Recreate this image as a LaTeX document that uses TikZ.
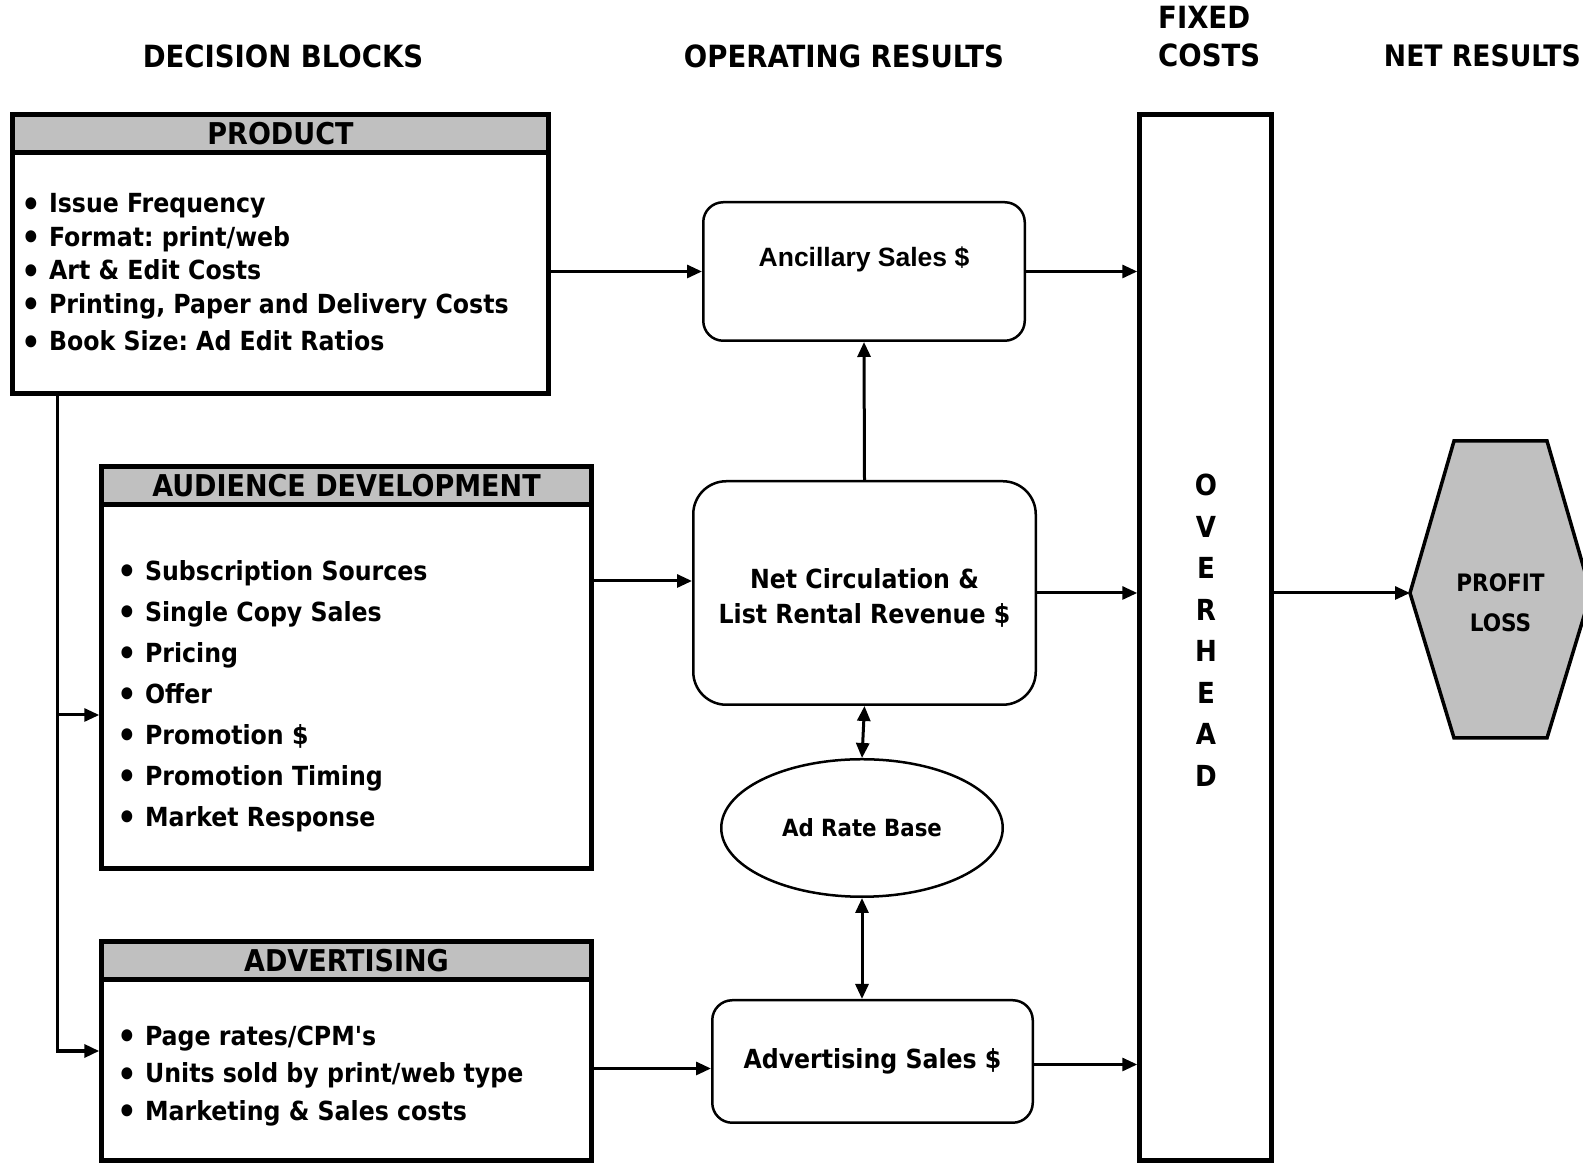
\documentclass[tikz,border=0pt]{standalone}
\usepackage{fontspec}
\setmainfont{DejaVu Sans Condensed}
\newfontfamily\arialfont{Liberation Sans}
\usepackage{tikz}
\usetikzlibrary{arrows.meta, positioning, calc, shapes.geometric}
\definecolor{HeadGray}{HTML}{C0C0C0}
\newcommand{\fsz}[2]{\fontsize{#1}{#2}\selectfont\bfseries}
\newcommand{\bul}{\raisebox{-0.12em}{\scalebox{1.3}{•}}}
\frenchspacing

\tikzset{
  decbox/.style={rectangle, draw, line width=4.5pt, inner sep=0pt},
  dechead/.style={rectangle, draw, fill=HeadGray, line width=4.5pt,
                  inner sep=0pt, minimum height=38, font=\fsz{30}{32}},
  itemlist/.style={align=left, inner sep=0pt, anchor=west},
  opbox/.style={rectangle, rounded corners=20pt, draw, line width=2.5pt,
                align=center, inner sep=0pt, font=\fsz{26.3}{35}},
  colhead/.style={inner sep=0pt, font=\fsz{30.6}{38}},
  flow/.style={-{Triangle[length=15pt,width=13pt]}, line width=3pt},
  twoway/.style={{Triangle[length=15pt,width=13pt]}-{Triangle[length=15pt,width=13pt]},
                 line width=3pt}
}

\begin{document}
\begin{tikzpicture}[x=1pt, y=1pt]
    \useasboundingbox (0,0) rectangle (1583,1166);

    % Column headings
    \node[colhead] (hdec) at (283,1110) {DECISION BLOCKS};
    \node[colhead] (hop) at (844,1110) {OPERATING RESULTS};
    \node[colhead, align=left, anchor=west] (hfix) at (1158,1129) {FIXED\\COSTS};
    \node[colhead, font=\fsz{29.6}{38}, anchor=east] (hnet) at (1581,1110) {NET RESULTS};

    % Decision blocks
    \node[decbox, minimum width=536, minimum height=279] (prod) at (280.5,912) {};
    \node[dechead, minimum width=536, anchor=north] (prodH) at (prod.north) {PRODUCT};
    \node[itemlist, font=\fsz{26.3}{33.5}] (prodL) at (21,892) {%
        \bul\ Issue Frequency\\
        \bul\ Format: print/web\\
        \bul\ Art \& Edit Costs\\
        \bul\ Printing, Paper and Delivery Costs\\[4pt]
        \bul\ Book Size: Ad Edit Ratios};

    \node[decbox, minimum width=490, minimum height=402] (aud) at (346.5,498.5) {};
    \node[dechead, minimum width=490, anchor=north] (audH) at (aud.north) {AUDIENCE DEVELOPMENT};
    \node[itemlist, font=\fsz{26.3}{41}] (audL) at (117,470) {%
        \bul\ Subscription Sources\\
        \bul\ Single Copy Sales\\
        \bul\ Pricing\\
        \bul\ Offer\\
        \bul\ Promotion \$\\
        \bul\ Promotion Timing\\
        \bul\ Market Response};

    \node[decbox, minimum width=490, minimum height=219] (adv) at (346.5,115) {};
    \node[dechead, minimum width=490, anchor=north] (advH) at (adv.north) {ADVERTISING};
    \node[itemlist, font=\fsz{26.3}{37.5}] (advL) at (117,90) {%
        \bul\ Page rates/CPM\textquotesingle s\\
        \bul\ Units sold by print/web type\\
        \bul\ Marketing \& Sales costs};

    % Operating results
    \node[opbox, minimum width=321.5, minimum height=138.5,
          label={[yshift=12pt, font=\arialfont\fsz{26.5}{28}]center:Ancillary Sales \$}]
          (anc) at (864,894.5) {};
    \node[opbox, rounded corners=33pt, minimum width=342.5, minimum height=223.5,
          label={[yshift=-5pt, align=center, font=\fsz{26.3}{35}]center:Net Circulation \&\\List Rental Revenue \$}]
          (net) at (864.5,573) {};
    \node[ellipse, draw, line width=2.5pt, inner sep=0pt, minimum width=281.5,
          minimum height=137.5, font=\fsz{23.7}{26}] (rate) at (862,338) {Ad Rate Base};
    \node[opbox, minimum width=320.5, minimum height=122.5] (advs) at (872.5,104.5)
          {Advertising Sales \$};

    % Fixed costs
    \node[decbox, minimum width=132, minimum height=1046] (ovh) at (1205.5,528.5) {};
    \node[align=center, inner sep=0pt, font=\fsz{29}{41.5}] (ovhL) at (1206,536)
          {O\\V\\E\\R\\H\\E\\A\\D};

    % Net results
    \coordinate (hexL) at (1410,573);
    \draw[line width=3.5pt, fill=HeadGray] (hexL) -- (1454,428) -- (1547,428)
          -- (1591,573) -- (1547,725) -- (1454,725) -- cycle;
    \node[align=center, inner sep=0pt, font=\fsz{24}{40}] (pl) at (1500.5,563)
          {PROFIT\\LOSS};

    % Connectors
    \coordinate (busTop) at (57.5,770);
    \coordinate (audIn) at ($(aud.west)+(0,-47.5)$);
    \coordinate (netIn) at ($(net.west)+(0,12)$);
    \coordinate (advsIn) at ($(advs.west)+(0,-7)$);
    \coordinate (advsOut) at ($(advs.east)+(0,-3)$);
    \draw[line width=3.5pt, -{Triangle[length=15pt,width=13pt]}] (busTop) |- (adv.west);
    \draw[flow] (busTop |- audIn) -- (audIn);
    \draw[flow] (prod.east |- anc.west) -- (anc.west);
    \draw[flow] (anc.east) -- (ovh.west |- anc.east);
    \draw[flow] (net.north) -- (anc.south);
    \draw[flow] (aud.east |- netIn) -- (netIn);
    \draw[flow] (net.east) -- (ovh.west |- net.east);
    \draw[twoway] (net.south) -- (rate.north);
    \draw[twoway] (rate.south) -- (rate.south |- advs.north);
    \draw[flow] (adv.east |- advsIn) -- (advsIn);
    \draw[flow] (advsOut) -- (ovh.west |- advsOut);
    \draw[flow] (ovh.east |- hexL) -- (hexL);
\end{tikzpicture}
\end{document}
